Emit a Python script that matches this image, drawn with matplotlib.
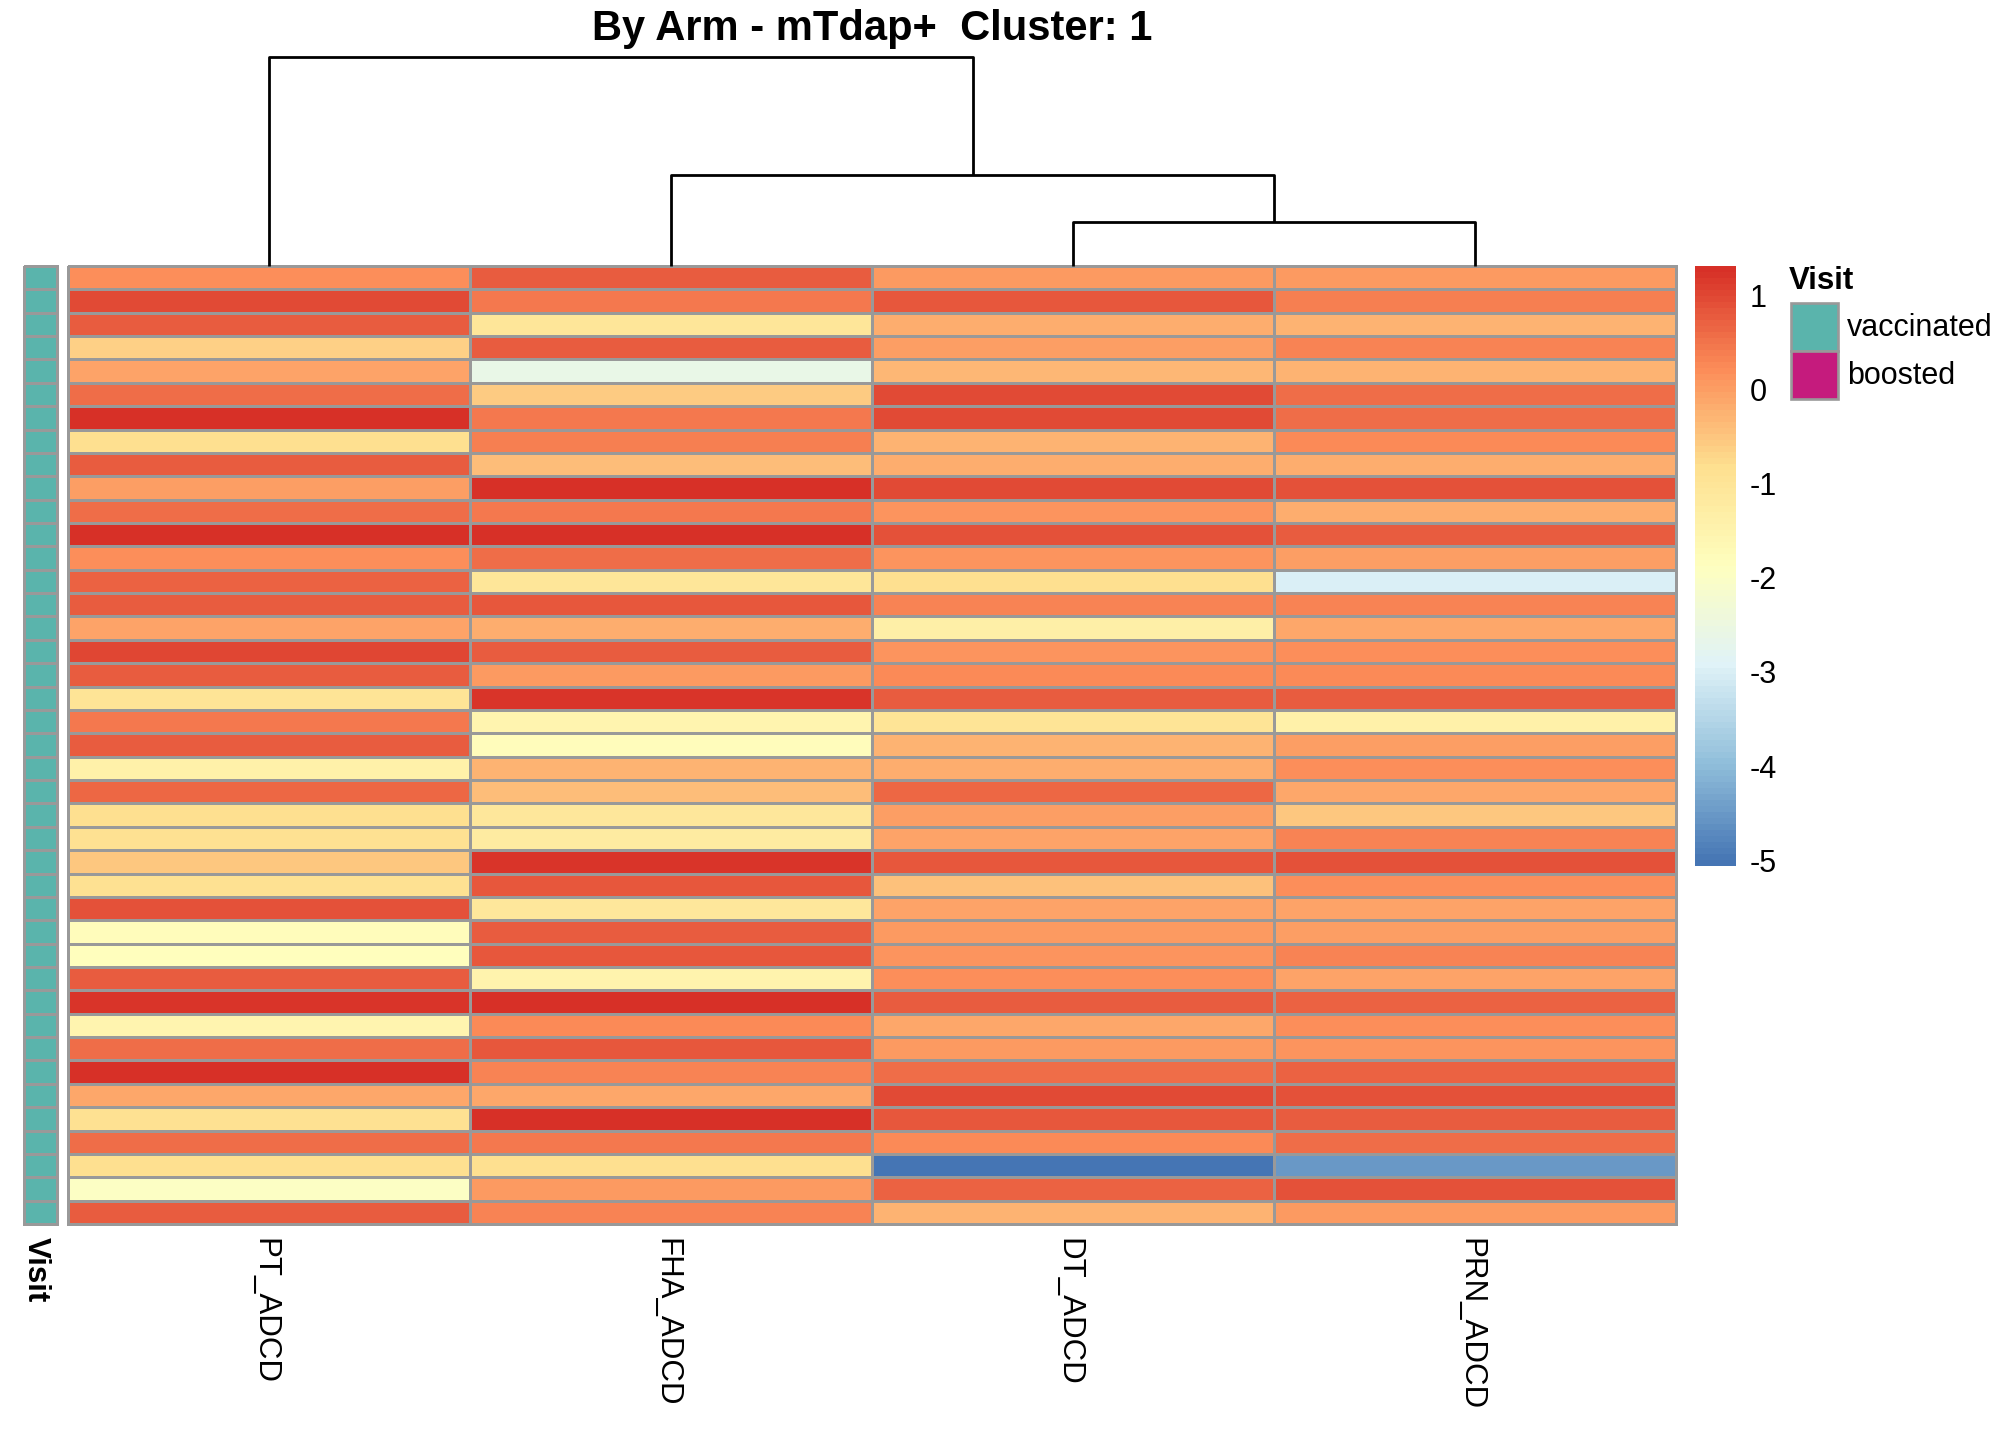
import numpy as np
import matplotlib
matplotlib.use("Agg")
import matplotlib.pyplot as plt
from matplotlib.colors import LinearSegmentedColormap, ListedColormap
from matplotlib.patches import Rectangle

plt.rcParams['font.family'] = ['Liberation Sans', 'DejaVu Sans']

# ---------------- data ----------------
columns = ["PT_ADCD", "FHA_ADCD", "DT_ADCD", "PRN_ADCD"]

pt_adcd = [0.20, 0.95, 0.80, -0.65, -0.05, 0.60, 1.31, -0.80, 0.80, -0.02,
           0.60, 1.30, 0.20, 0.68, 0.78, -0.05, 1.05, 0.80, -0.95, 0.45,
           0.80, -1.40, 0.65, -0.80, -0.88, -0.50, -0.88, 0.88, -1.80, -1.85,
           0.78, 1.20, -1.55, 0.58, 1.30, -0.12, -0.88, 0.58, -0.85, -2.00,
           0.78]
fha_adcd = [0.75, 0.45, -1.00, 0.80, -2.60, -0.55, 0.45, 0.40, -0.40, 1.30,
            0.45, 1.28, 0.60, -1.00, 0.82, -0.20, 0.78, 0.07, 1.20, -1.50,
            -1.80, -0.22, -0.38, -1.05, -1.20, 1.20, 0.82, -1.05, 0.78, 0.82,
            -1.45, 1.25, 0.25, 0.82, 0.35, -0.12, 1.28, 0.45, -0.82, 0.07,
            0.30]
dt_adcd = [0.05, 0.85, -0.20, 0.00, -0.30, 0.95, 0.95, -0.25, -0.20, 0.95,
           0.10, 0.92, 0.15, -0.85, 0.30, -1.35, 0.12, 0.25, 0.78, -0.95,
           -0.22, -0.20, 0.65, 0.00, -0.05, 0.85, -0.45, -0.05, 0.05, 0.10,
           0.18, 0.75, -0.12, 0.05, 0.55, 0.95, 0.85, 0.25, -5.06, 0.72,
           -0.25]
prn_adcd = [0.05, 0.40, -0.25, 0.35, -0.25, 0.60, 0.55, 0.25, -0.20, 0.92,
            -0.20, 0.78, -0.02, -3.00, 0.30, -0.10, 0.20, 0.25, 0.78, -1.40,
            0.00, 0.18, -0.12, -0.50, 0.35, 0.90, 0.20, -0.05, 0.00, 0.35,
            -0.05, 0.72, 0.20, 0.10, 0.68, 0.88, 0.78, 0.55, -4.50, 0.90,
            0.08]
visit = ["vaccinated"] * 41
visit_levels = ["vaccinated", "boosted"]
visit_colors = ["#5AB4AC", "#C51B7D"]

# column dendrogram: leaves PT, FHA, DT, PRN ; merges (DT,PRN) -> (FHA,..) -> (PT,..)
merge_heights = [0.21, 0.435, 1.0]

colorbar_ticks = [1, 0, -1, -2, -3, -4, -5]
title = "By Arm - mTdap+  Cluster: 1"

# ---------------- layout helpers ----------------
W, H = 2016, 1440
fig = plt.figure(figsize=(W / 100, H / 100), dpi=100)

def rect(x0, y0, x1, y1):
    return [x0 / W, 1 - y1 / H, (x1 - x0) / W, (y1 - y0) / H]

data = np.array([pt_adcd, fha_adcd, dt_adcd, prn_adcd]).T
vmin, vmax = data.min(), data.max()
base = ["#4575B4", "#91BFDB", "#E0F3F8", "#FFFFBF", "#FEE090", "#FC8D59", "#D73027"]
cmap = ListedColormap(LinearSegmentedColormap.from_list("rdylbu", base)(np.linspace(0, 1, 100)))

border = "#999999"
nrow, ncol = data.shape

# heatmap
ax = fig.add_axes(rect(68, 266, 1676, 1224))
qm = ax.pcolormesh(np.arange(ncol + 1), np.arange(nrow + 1), data, cmap=cmap,
                   vmin=vmin, vmax=vmax, edgecolors=border, linewidth=1.9)
qm.set_clip_on(False)
ax.set_xlim(0, ncol)
ax.set_ylim(nrow, 0)
ax.axis("off")

# annotation column
axa = fig.add_axes(rect(24, 266, 57, 1224))
codes = np.array([[visit_levels.index(v)] for v in visit])
qa = axa.pcolormesh(np.arange(2), np.arange(nrow + 1), codes, cmap=ListedColormap(visit_colors),
                    vmin=-0.5, vmax=1.5, edgecolors=border, linewidth=1.9)
qa.set_clip_on(False)
axa.set_xlim(0, 1)
axa.set_ylim(nrow, 0)
axa.axis("off")

# dendrogram
axd = fig.add_axes(rect(68, 57, 1676, 266))
h3, h2, h1 = merge_heights   # h3 lowest merge, h1 root
xs = [0.5, 1.5, 2.5, 3.5]
lw = 2.0
c_dp = (xs[2] + xs[3]) / 2
axd.plot([xs[2], xs[2], xs[3], xs[3]], [0, h3, h3, 0], color="black", lw=lw, solid_capstyle="butt")
c_f = (xs[1] + c_dp) / 2
axd.plot([xs[1], xs[1], c_dp, c_dp], [0, h2, h2, h3], color="black", lw=lw, solid_capstyle="butt")
axd.plot([xs[0], xs[0], c_f, c_f], [0, h1, h1, h2], color="black", lw=lw, solid_capstyle="butt")
axd.set_xlim(0, ncol)
axd.set_ylim(0, h1)
axd.axis("off")
for l in axd.lines:
    l.set_clip_on(False)

# colorbar
axc = fig.add_axes(rect(1695, 266, 1736, 866))
grad = np.linspace(vmin, vmax, 100).reshape(-1, 1)
axc.imshow(grad, cmap=cmap, vmin=vmin, vmax=vmax, origin="lower", aspect="auto",
           extent=[0, 1, vmin, vmax])
axc.set_xticks([])
axc.yaxis.tick_right()
axc.set_yticks(colorbar_ticks)
axc.set_yticklabels([str(t) for t in colorbar_ticks], fontsize=22)
axc.tick_params(axis="y", length=0, pad=10)
for s in axc.spines.values():
    s.set_visible(False)

# overlay for text and legend
axo = fig.add_axes([0, 0, 1, 1], zorder=10)
axo.set_xlim(0, W)
axo.set_ylim(H, 0)
axo.axis("off")
axo.patch.set_alpha(0)

axo.text(872, 29, title, fontsize=30, fontweight="bold", ha="center", va="center")

# legend
axo.text(1789, 281, "Visit", fontsize=22.5, fontweight="bold", ha="left", va="center")
box_y = 303
for lev, col in zip(visit_levels, visit_colors):
    axo.add_patch(Rectangle((1791, box_y), 47, 48, facecolor=col, edgecolor=border, lw=1.9))
    axo.text(1847, box_y + 25, lev, fontsize=22, ha="left", va="center")
    box_y += 48

# column labels
col_px = np.linspace(68, 1676, ncol + 1)
for i, name in enumerate(columns):
    cx = (col_px[i] + col_px[i + 1]) / 2
    axo.text(cx - 5, 1238, name, fontsize=22.5, rotation=270, ha="center", va="top")
axo.text(36, 1237, "Visit", fontsize=22.5, fontweight="bold", rotation=270, ha="center", va="top")

fig.savefig("out.png", dpi=100)
